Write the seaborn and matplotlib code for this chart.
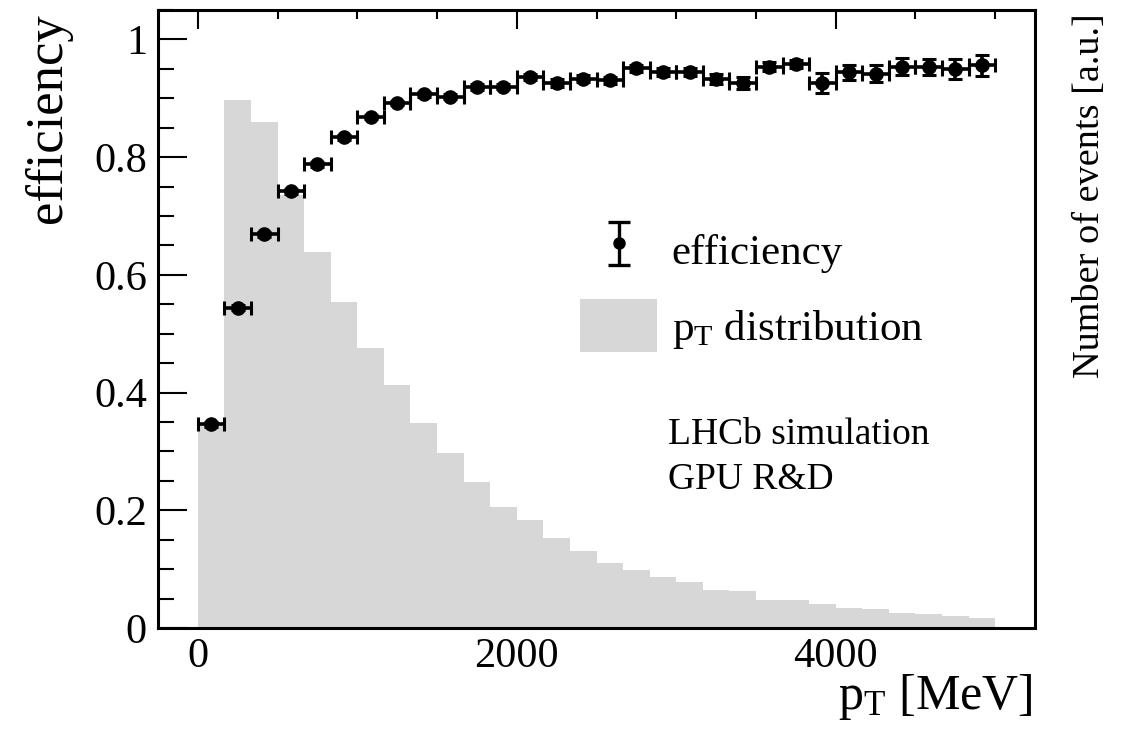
import numpy as np
import pandas as pd
import matplotlib
matplotlib.use("Agg")
import matplotlib.pyplot as plt
from matplotlib.ticker import MultipleLocator, FixedLocator, FixedFormatter
from matplotlib.patches import Patch
from matplotlib.lines import Line2D
from matplotlib.collections import LineCollection
from matplotlib.container import ErrorbarContainer
import seaborn as sns

# ---------------- data ----------------
bin_edges = [i * 5000 / 30 for i in range(31)]   # 30 bins of pT [MeV]
pt_hist = [0.345, 0.897, 0.859, 0.736, 0.639, 0.554, 0.476, 0.413, 0.349, 0.298,
           0.248, 0.206, 0.183, 0.153, 0.131, 0.111, 0.098, 0.087, 0.079, 0.064,
           0.063, 0.048, 0.047, 0.040, 0.034, 0.032, 0.026, 0.023, 0.021, 0.0175]
efficiency = [0.346, 0.544, 0.669, 0.742, 0.788, 0.834, 0.868, 0.892, 0.907, 0.903,
              0.919, 0.920, 0.936, 0.926, 0.933, 0.931, 0.951, 0.945, 0.945, 0.933,
              0.926, 0.954, 0.958, 0.926, 0.944, 0.942, 0.954, 0.953, 0.950, 0.956]
eff_err = [0.004, 0.004, 0.004, 0.004, 0.004, 0.004, 0.004, 0.004, 0.004, 0.005,
           0.005, 0.005, 0.005, 0.006, 0.006, 0.006, 0.006, 0.007, 0.007, 0.008,
           0.011, 0.007, 0.007, 0.017, 0.013, 0.014, 0.015, 0.014, 0.017, 0.018]
x_ticks = [0, 2000, 4000]
x_tick_labels = ["0", "2000", "4000"]
y_ticks = [0, 0.2, 0.4, 0.6, 0.8, 1.0]
y_tick_labels = ["0", "0.2", "0.4", "0.6", "0.8", "1"]

edges = np.asarray(bin_edges)
centers = 0.5 * (edges[:-1] + edges[1:])
half_w = 0.5 * np.diff(edges)
df = pd.DataFrame({"pt": centers, "w": pt_hist, "eff": efficiency, "err": eff_err})

# ---------------- style ----------------
sns.set_theme(style="white")
plt.rcParams["font.family"] = ["Liberation Serif", "DejaVu Serif"]
plt.rcParams["mathtext.fontset"] = "custom"
plt.rcParams["mathtext.rm"] = "Liberation Serif"
plt.rcParams["mathtext.it"] = "Liberation Serif:italic"
plt.rcParams["text.color"] = "black"
plt.rcParams["axes.labelcolor"] = "black"

fig = plt.figure(figsize=(11.24, 7.37), dpi=100)
ax = fig.add_axes([0.1406, 0.1479, 0.9208 - 0.1406, 0.9864 - 0.1479])

hist_color = "#d7d7d7"
sns.histplot(x=df["pt"].to_numpy(), weights=df["w"].to_numpy(), bins=bin_edges,
             stat="count", color=hist_color, alpha=1.0, linewidth=0,
             element="bars", ax=ax, zorder=1)

ax.errorbar(df["pt"], df["eff"], xerr=half_w, yerr=df["err"], fmt="o",
            color="black", markersize=9.5, elinewidth=2.6, capsize=5,
            capthick=2.2, zorder=3)

ax.set_xlim(-250, 5250)
ax.set_ylim(0, 1.05)

ax.xaxis.set_major_locator(FixedLocator(x_ticks))
ax.xaxis.set_major_formatter(FixedFormatter(x_tick_labels))
ax.yaxis.set_major_locator(FixedLocator(y_ticks))
ax.yaxis.set_major_formatter(FixedFormatter(y_tick_labels))
ax.xaxis.set_minor_locator(MultipleLocator(500))
ax.yaxis.set_minor_locator(MultipleLocator(0.05))

ax.tick_params(axis="both", which="both", direction="in", top=True, right=True,
               color="black", width=1.5, labelsize=30.5, labelcolor="black")
ax.tick_params(axis="x", which="major", length=13.7, pad=7)
ax.tick_params(axis="x", which="minor", length=6.8)
ax.tick_params(axis="y", which="major", length=21, pad=8)
ax.tick_params(axis="y", which="minor", length=11.5)
for s in ax.spines.values():
    s.set_color("black")
    s.set_linewidth(2.2)
    s.set_zorder(5)

ax.set_xlabel(r"$\mathregular{p_T}$ [MeV]", fontsize=36, color="black",
              ha="right")
ax.xaxis.set_label_coords(0.997, -0.072)
ax.set_ylabel("efficiency", fontsize=38, color="black", loc="top")
ax.yaxis.set_label_coords(-0.098, 0.995)

ax2 = ax.twinx()
ax2.set_ylim(0, 1.05)
ax2.set_yticks([])
for s in ax2.spines.values():
    s.set_visible(False)
ax2.set_ylabel("Number of events [a.u.]", fontsize=27.5, color="black", loc="top")
ax2.yaxis.set_label_coords(1.0433, 0.995)

# legend handles (proxy artists, no data)
mk = Line2D([], [], marker="o", color="black", markersize=8, linestyle="none")
cap = Line2D([], [], marker="_", color="black", markersize=16,
             markeredgewidth=2.4, linestyle="none")
bar = LineCollection([], colors="black", linewidths=2.4)
leg_err = ErrorbarContainer((mk, (cap, cap), (bar,)), has_xerr=False, has_yerr=True)
leg_patch = Patch(facecolor=hist_color, edgecolor="none")
ax.legend([leg_err, leg_patch], ["efficiency", r"$\mathregular{p_T}$ distribution"],
          loc="upper left", bbox_to_anchor=(0.481, 0.655), frameon=False,
          fontsize=31, borderpad=0, borderaxespad=0, handlelength=1.8,
          handleheight=1.5, handletextpad=0.33, labelspacing=0.55,
          labelcolor="black")

ax.text(0.5815, 0.34, "LHCb simulation\nGPU R&D", transform=ax.transAxes,
        fontsize=27, va="top", ha="left", linespacing=1.4, color="black")

fig.savefig("out.png", dpi=100)
